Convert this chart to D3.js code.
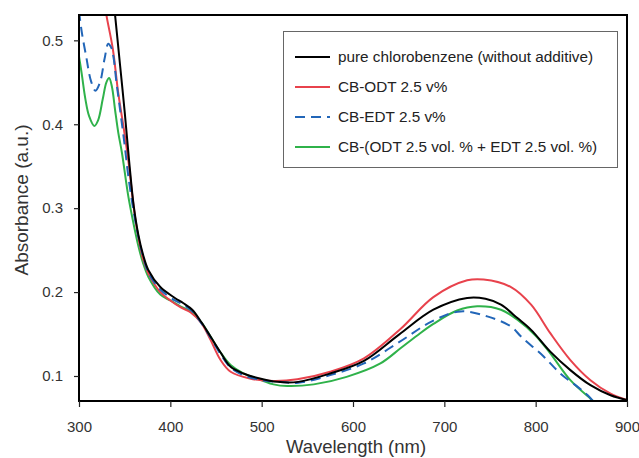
<!DOCTYPE html>
<html>
<head>
<meta charset="utf-8">
<script src="https://cdn.jsdelivr.net/npm/d3@7"></script>
<style>
  html, body { margin: 0; padding: 0; background: #fff; }
  svg { display: block; }
  text { font-family: Arial, "Liberation Sans", sans-serif; }
</style>
</head>
<body>
<svg id="chart" width="639" height="458"></svg>
<script>
// ---- data ----
const xTicks = [300, 400, 500, 600, 700, 800, 900];
const yTicks = [0.1, 0.2, 0.3, 0.4, 0.5];
const seriesNames = [
  "pure chlorobenzene (without additive)",
  "CB-ODT 2.5 v%",
  "CB-EDT 2.5 v%",
  "CB-(ODT 2.5 vol. % + EDT 2.5 vol. %)"
];

const pureWl  = [300, 320, 335, 339.5, 345, 350, 355, 360, 365, 370, 376, 389, 405, 414, 424, 434, 444, 455, 466, 480, 498, 517, 540, 575, 612, 650, 688, 725, 745, 762, 780, 795, 816, 838, 860, 882, 900];
const pureAbs = [0.70, 0.66, 0.58, 0.530, 0.470, 0.415, 0.355, 0.302, 0.268, 0.245, 0.226, 0.206, 0.193, 0.187, 0.179, 0.164, 0.147, 0.128, 0.111, 0.103, 0.097, 0.093, 0.093, 0.103, 0.118, 0.149, 0.179, 0.193, 0.192, 0.185, 0.169, 0.155, 0.129, 0.107, 0.089, 0.077, 0.0714];

const odtWl  = [300, 315, 325, 330, 337, 343, 349, 354, 360, 365, 370, 376, 389, 400, 411, 422, 434, 444, 455, 466, 487, 513, 539, 575, 612, 652, 688, 725, 743, 773, 795, 816, 838, 860, 882, 900];
const odtAbs = [0.62, 0.60, 0.565, 0.530, 0.490, 0.437, 0.395, 0.357, 0.300, 0.265, 0.240, 0.222, 0.200, 0.190, 0.182, 0.176, 0.163, 0.143, 0.119, 0.105, 0.097, 0.094, 0.096, 0.105, 0.121, 0.156, 0.194, 0.214, 0.215, 0.206, 0.185, 0.151, 0.119, 0.095, 0.079, 0.0714];

const edtWl  = [300, 303, 308, 313, 318, 323, 328, 332, 335, 337.6, 341, 345, 350, 354, 359.5, 365, 370, 376, 389, 405, 414, 424, 434, 444, 455, 466, 480, 500, 520, 540, 575, 612, 650, 688, 718, 747, 773, 784, 809, 827, 846, 857, 866];
const edtAbs = [0.535, 0.51, 0.48, 0.452, 0.440, 0.450, 0.478, 0.496, 0.492, 0.481, 0.450, 0.417, 0.375, 0.338, 0.298, 0.266, 0.243, 0.223, 0.203, 0.190, 0.185, 0.177, 0.163, 0.146, 0.126, 0.110, 0.101, 0.095, 0.093, 0.092, 0.101, 0.115, 0.140, 0.166, 0.177, 0.171, 0.159, 0.147, 0.123, 0.103, 0.087, 0.077, 0.066];

const mixWl  = [300, 303, 307, 311, 316.8, 321, 326, 330, 333, 336, 339.5, 343, 347, 354, 360, 365, 370, 376, 389, 400, 411, 422, 434, 444, 455, 466, 480, 500, 513, 528, 557, 593, 630, 652, 670, 688, 714, 736, 762, 780, 800, 816, 838, 860, 870];
const mixAbs = [0.481, 0.46, 0.43, 0.41, 0.398, 0.405, 0.430, 0.450, 0.455, 0.445, 0.417, 0.390, 0.366, 0.314, 0.280, 0.255, 0.235, 0.218, 0.197, 0.190, 0.183, 0.177, 0.164, 0.147, 0.128, 0.113, 0.103, 0.095, 0.090, 0.088, 0.090, 0.099, 0.115, 0.133, 0.148, 0.162, 0.178, 0.183, 0.179, 0.167, 0.148, 0.127, 0.095, 0.073, 0.064];

const seriesColors = ["#000000", "#e8424c", "#2266b8", "#2fb24a"];
const seriesDash = [null, null, "10,6", null];

// ---- layout ----
const svg = d3.select("#chart");
const margin = { left: 79, right: 12, top: 15, bottom: 57 };
const W = 639, H = 458;
const yMin = 0.0702, yMax = 0.5302;
const x = d3.scaleLinear().domain([300, 900]).range([margin.left, W - margin.right]);
const y = d3.scaleLinear().domain([yMin, yMax]).range([H - margin.bottom, margin.top]);

svg.append("defs").append("clipPath").attr("id", "plotclip")
  .append("rect")
  .attr("x", x(300)).attr("y", y(yMax))
  .attr("width", x(900) - x(300)).attr("height", y(yMin) - y(yMax));

const series = [
  { wl: pureWl, abs: pureAbs },
  { wl: odtWl, abs: odtAbs },
  { wl: edtWl, abs: edtAbs },
  { wl: mixWl, abs: mixAbs }
];

const line = d3.line()
  .x(d => x(d[0]))
  .y(d => y(d[1]))
  .curve(d3.curveCatmullRom.alpha(0.5));

const g = svg.append("g").attr("clip-path", "url(#plotclip)");
const order = [3, 1, 2, 0];
order.forEach(i => {
  const s = series[i];
  g.append("path")
    .datum(s.wl.map((w, k) => [w, s.abs[k]]))
    .attr("d", line)
    .attr("fill", "none")
    .attr("stroke", seriesColors[i])
    .attr("stroke-width", 2)
    .attr("stroke-dasharray", seriesDash[i]);
});

// frame
svg.append("rect")
  .attr("x", x(300)).attr("y", y(yMax))
  .attr("width", x(900) - x(300)).attr("height", y(yMin) - y(yMax))
  .attr("fill", "none").attr("stroke", "#000").attr("stroke-width", 2);

// axes
const xAxis = d3.axisBottom(x).tickValues(xTicks).tickSize(6).tickPadding(14).tickFormat(d3.format("d"));
const yAxis = d3.axisLeft(y).tickValues(yTicks).tickSize(5).tickPadding(11).tickFormat(d3.format(".1f"));

const gx = svg.append("g").attr("transform", `translate(0,${y(yMin)})`).call(xAxis);
const gy = svg.append("g").attr("transform", `translate(${x(300)},0)`).call(yAxis);
[gx, gy].forEach(a => {
  a.select(".domain").remove();
  a.selectAll(".tick line").attr("stroke", "#222").attr("stroke-width", 1.2);
  a.selectAll(".tick text").attr("fill", "#333").style("font-size", "15px")
    .style("font-family", "Arial, 'Liberation Sans', sans-serif");
});

// axis titles
svg.append("text")
  .attr("x", 356).attr("y", 453)
  .attr("text-anchor", "middle").attr("fill", "#333")
  .style("font-size", "18.5px").text("Wavelength (nm)");
svg.append("text")
  .attr("transform", `translate(28,${200}) rotate(-90)`)
  .attr("text-anchor", "middle").attr("fill", "#333")
  .style("font-size", "19px").text("Absorbance (a.u.)");

// legend
const lg = svg.append("g");
lg.append("rect").attr("x", 283.5).attr("y", 31.5).attr("width", 334).attr("height", 136)
  .attr("fill", "#fff").attr("stroke", "#666").attr("stroke-width", 1);
seriesNames.forEach((name, i) => {
  const ly = 57 + i * 30;
  lg.append("line").attr("x1", 295).attr("x2", 330).attr("y1", ly).attr("y2", ly)
    .attr("stroke", seriesColors[i]).attr("stroke-width", 2)
    .attr("stroke-dasharray", seriesDash[i]);
  lg.append("text").attr("x", 338).attr("y", ly).attr("dy", "0.35em")
    .attr("fill", "#222").style("font-size", "15.3px").text(name);
});
</script>
</body>
</html>
